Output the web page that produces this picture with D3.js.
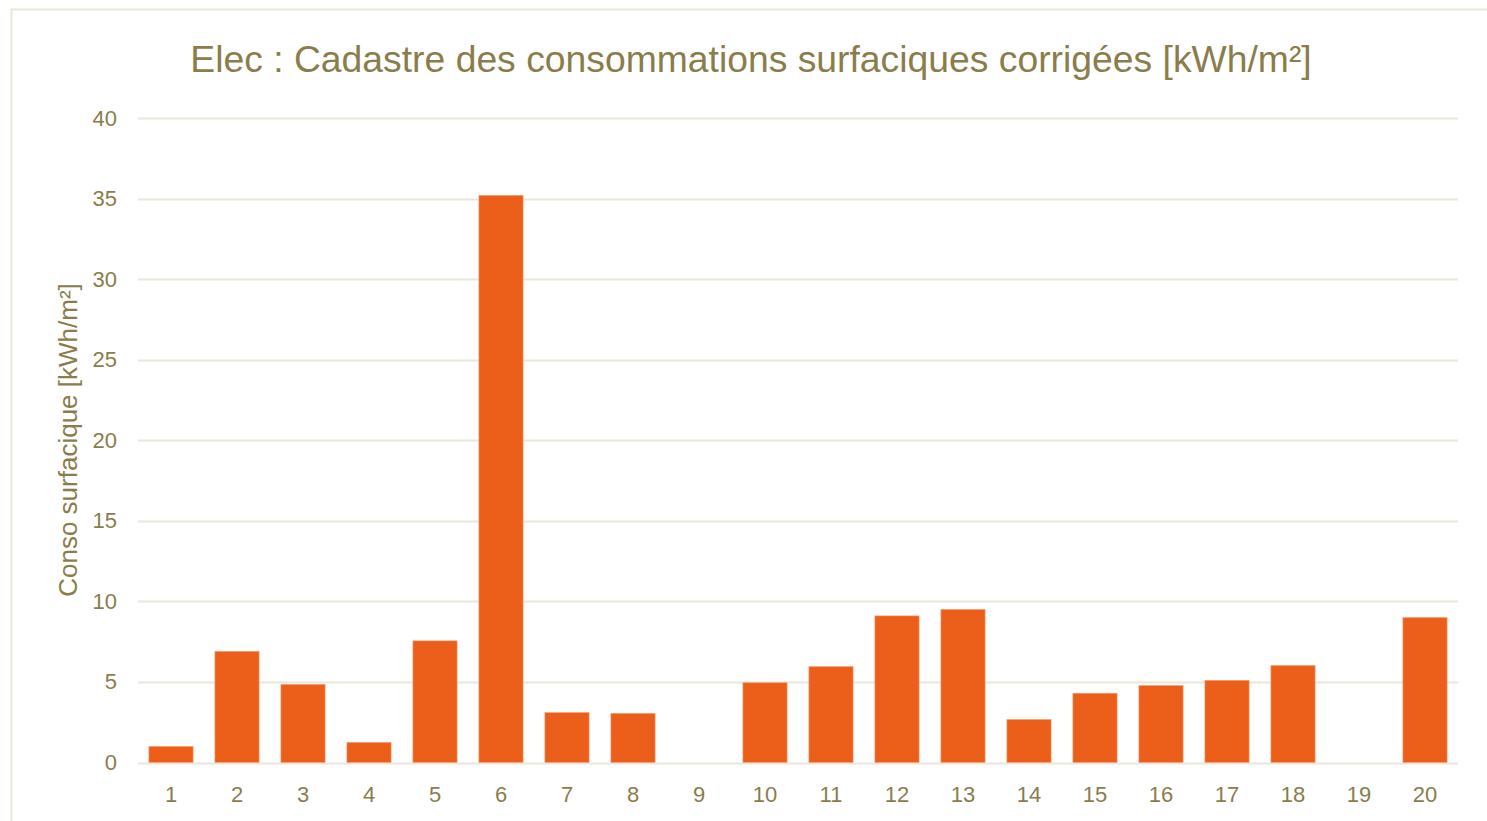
<!DOCTYPE html>
<html>
<head>
<meta charset="utf-8">
<script src="https://cdn.jsdelivr.net/npm/d3@7"></script>
<style>
    body { margin: 0; background: #fff; }
    svg { display: block; font-family: "Liberation Sans", Arial, sans-serif; }
</style>
</head>
<body>
<div id="chart"></div>
<script>
// chart data
const categories = ['1', '2', '3', '4', '5', '6', '7', '8', '9', '10',
    '11', '12', '13', '14', '15', '16', '17', '18', '19', '20'];
const values = [1.0, 6.9, 4.85, 1.25, 7.55, 35.2, 3.1, 3.05, 0, 4.95,
    5.95, 9.1, 9.5, 2.67, 4.3, 4.78, 5.1, 6.02, 0, 9.0];
const yTicks = [0, 5, 10, 15, 20, 25, 30, 35, 40];

const titleText = 'Elec : Cadastre des consommations surfaciques corrigées [kWh/m²]';
const yLabel = 'Conso surfacique [kWh/m²]';

const width = 1487, height = 821;
const margin = { top: 118, right: 29, bottom: 58, left: 138 };
const textColor = '#8a7d4c';
const gridColor = '#ebe6da';
const barColor = '#ec5f1a';

const svg = d3.select('#chart').append('svg')
    .attr('width', width)
    .attr('height', height);

// outer frame
svg.append('rect')
    .attr('x', 11.5)
    .attr('y', 9.5)
    .attr('width', width - 10)
    .attr('height', height)
    .attr('fill', 'none')
    .attr('stroke', gridColor)
    .attr('stroke-width', 2);

const x = d3.scaleBand()
    .domain(categories)
    .range([margin.left, width - margin.right])
    .paddingInner(0.33)
    .paddingOuter(0.165);

const y = d3.scaleLinear()
    .domain([0, 40])
    .range([height - margin.bottom - 0.5, margin.top]);

// gridlines
svg.append('g')
    .selectAll('line')
    .data(yTicks)
    .enter().append('line')
    .attr('x1', margin.left)
    .attr('x2', width - margin.right)
    .attr('y1', d => Math.round(y(d)) + 0.5)
    .attr('y2', d => Math.round(y(d)) + 0.5)
    .attr('stroke', gridColor)
    .attr('stroke-width', 2);

// y axis labels
const yAxis = svg.append('g')
    .attr('transform', `translate(${margin.left - 21},0)`)
    .call(d3.axisLeft(y).tickValues(yTicks).tickSize(0).tickPadding(0));
yAxis.select('.domain').remove();
yAxis.selectAll('text')
    .attr('fill', textColor)
    .attr('font-size', '22px')
    .attr('font-family', '"Liberation Sans", Arial, sans-serif');

// x axis labels
const xAxis = svg.append('g')
    .attr('transform', `translate(0,${height - margin.bottom})`)
    .call(d3.axisBottom(x).tickSize(0).tickPadding(23));
xAxis.select('.domain').remove();
xAxis.selectAll('text')
    .attr('fill', textColor)
    .attr('font-size', '22px')
    .attr('font-family', '"Liberation Sans", Arial, sans-serif');

// bars
svg.append('g')
    .selectAll('rect')
    .data(values)
    .enter().append('rect')
    .attr('x', (d, i) => x(categories[i]))
    .attr('y', d => y(d))
    .attr('width', x.bandwidth())
    .attr('height', d => y(0) - y(d))
    .attr('fill', barColor)
    .attr('stroke', d => d > 0 ? '#f6a27a' : 'none')
    .attr('stroke-width', 0.6);

// title
svg.append('text')
    .attr('x', 751)
    .attr('y', 72)
    .attr('text-anchor', 'middle')
    .attr('fill', textColor)
    .attr('font-size', '37.3px')
    .text(titleText);

// y axis title
svg.append('text')
    .attr('transform', `translate(77,440) rotate(-90)`)
    .attr('text-anchor', 'middle')
    .attr('fill', textColor)
    .attr('font-size', '26px')
    .text(yLabel);
</script>
</body>
</html>
